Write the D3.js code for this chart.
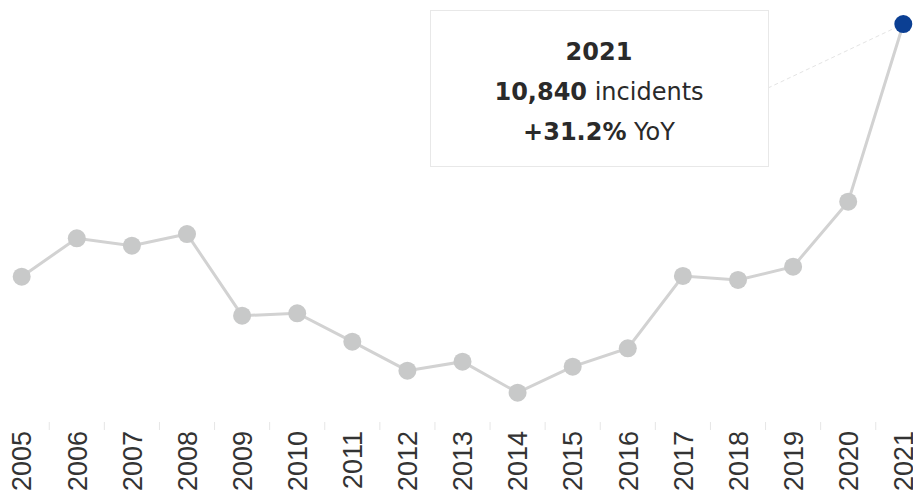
<!DOCTYPE html>
<html>
<head>
<meta charset="utf-8">
<script src="https://cdn.jsdelivr.net/npm/d3@7"></script>
<style>
  body { margin: 0; background: #fff; }
  svg { display: block; }
</style>
</head>
<body>
<svg id="chart" width="913" height="499"></svg>
<script>
const WIDTH = 913;
const HEIGHT = 499;

const years = ["2005", "2006", "2007", "2008", "2009", "2010", "2011", "2012", "2013",
  "2014", "2015", "2016", "2017", "2018", "2019", "2020", "2021"];
const incidents = [7174, 7731, 7624, 7793, 6608, 6643, 6231, 5810, 5941,
  5491, 5868, 6135, 7184, 7126, 7319, 8262, 10840];

const highlightYear = "2021";
const tipLines = [
  [{ t: "2021", bold: true }],
  [{ t: "10,840", bold: true }, { t: " incidents", bold: false }],
  [{ t: "+31.2%", bold: true }, { t: " YoY", bold: false }],
];

const svg = d3.select('#chart');

const x = d3.scaleBand()
  .domain(years)
  .range([-5.85, 930.85])
  .padding(0);

const y = d3.scaleLinear()
  .domain([5000, 11000])
  .range([426.5, 13]);

const cx = d => x(d) + x.bandwidth() / 2;

const points = years.map((yr, i) => ({ year: yr, value: incidents[i] }));

// faint ticks between the year labels
svg.append('g')
  .selectAll('line')
  .data(years.slice(1))
  .enter()
  .append('line')
  .attr('x1', d => x(d))
  .attr('x2', d => x(d))
  .attr('y1', 422)
  .attr('y2', 430)
  .style('stroke', '#e6e6e6')
  .style('stroke-width', 1);

// year labels, rotated
svg.append('g')
  .selectAll('text')
  .data(years)
  .enter()
  .append('text')
  .attr('transform', d => `translate(${cx(d)}, 431) rotate(-90)`)
  .attr('text-anchor', 'end')
  .attr('dy', '0.36em')
  .style('font-family', '"Liberation Sans", Arial, sans-serif')
  .style('font-size', '27px')
  .style('fill', '#333')
  .text(d => d);

// tooltip connector
const hl = points.find(p => p.year === highlightYear);
const box = { x: 430, y: 10, w: 338, h: 156 };

svg.append('line')
  .attr('x1', box.x + box.w)
  .attr('y1', box.y + box.h / 2)
  .attr('x2', cx(hl.year))
  .attr('y2', y(hl.value))
  .style('stroke', '#e4e4e4')
  .style('stroke-width', 1)
  .style('stroke-dasharray', '4 3');

// line
const line = d3.line()
  .x(d => cx(d.year))
  .y(d => y(d.value));

svg.append('path')
  .datum(points)
  .attr('d', line)
  .style('fill', 'none')
  .style('stroke', '#d2d2d2')
  .style('stroke-width', 3);

svg.append('g')
  .selectAll('circle')
  .data(points)
  .enter()
  .append('circle')
  .attr('cx', d => cx(d.year))
  .attr('cy', d => y(d.value))
  .attr('r', 9)
  .style('fill', d => d.year === highlightYear ? '#0b3f93' : '#c8c9c9');

// tooltip box
svg.append('rect')
  .attr('x', box.x + 0.5)
  .attr('y', box.y + 0.5)
  .attr('width', box.w)
  .attr('height', box.h)
  .style('fill', '#fff')
  .style('stroke', '#e8e8e8')
  .style('stroke-width', 1);

const tip = svg.append('text')
  .attr('text-anchor', 'middle')
  .style('font-family', '"DejaVu Sans", sans-serif')
  .style('font-size', '24px')
  .style('fill', '#2a2a2a');

tipLines.forEach((parts, i) => {
  const row = tip.append('tspan')
    .attr('x', box.x + box.w / 2)
    .attr('y', 60 + i * 40);
  parts.forEach(p => {
    row.append('tspan')
      .style('font-weight', p.bold ? 'bold' : 'normal')
      .text(p.t);
  });
});
</script>
</body>
</html>
